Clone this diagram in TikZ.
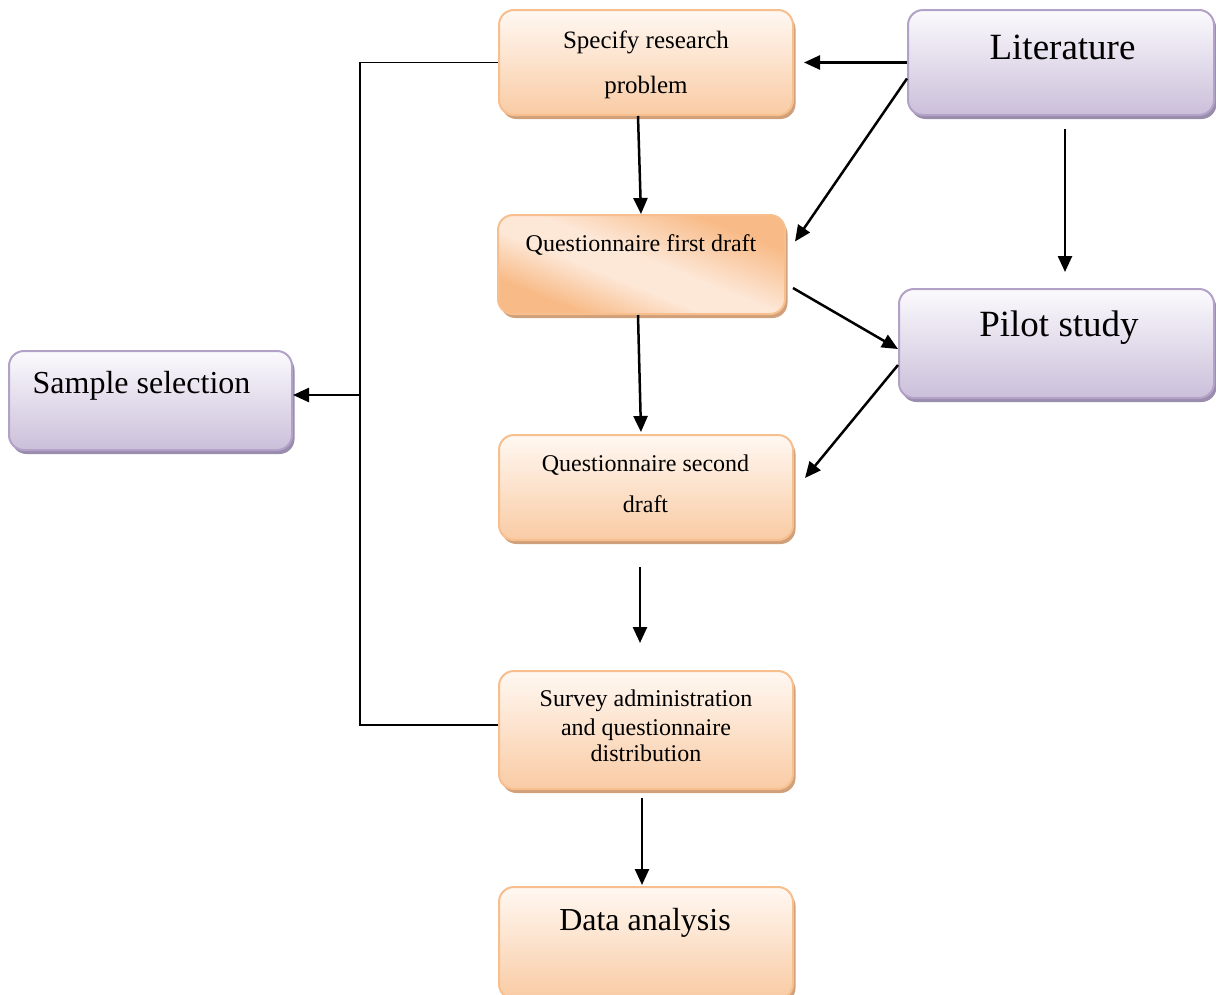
\documentclass[tikz,border=0pt]{standalone}
\usepackage{fontspec}
\setmainfont{Liberation Serif}
\usetikzlibrary{arrows.meta,shadows,calc}
\definecolor{obord}{HTML}{F8BF8E}
\definecolor{obot}{HTML}{F9CBA4}
\definecolor{otop}{HTML}{FFF8F2}
\definecolor{oshad}{HTML}{CFA07A}
\definecolor{odeep}{HTML}{F8BA86}
\definecolor{olight}{HTML}{FDE8D8}
\definecolor{pbord}{HTML}{B3A2C7}
\definecolor{pbot}{HTML}{CBBFDA}
\definecolor{ptop}{HTML}{FBFAFD}
\definecolor{pshad}{HTML}{9A8CAD}
\pgfdeclareverticalshading{qsh}{100bp}{color(0bp)=(odeep); color(28bp)=(odeep); color(43bp)=(olight); color(52bp)=(olight); color(72bp)=(odeep); color(100bp)=(odeep)}
\tikzset{
  obox/.style={draw=obord, line width=2pt, rounded corners=15pt, top color=otop, bottom color=obot,
    drop shadow={fill=oshad, opacity=1, shadow xshift=2.5pt, shadow yshift=-4pt}, inner sep=0pt},
  pbox/.style={draw=pbord, line width=2pt, rounded corners=15pt, top color=ptop, bottom color=pbot,
    drop shadow={fill=pshad, opacity=1, shadow xshift=2.5pt, shadow yshift=-4pt}, inner sep=0pt},
  txt/.style={anchor=base, inner sep=0pt},
  small/.style={font=\fontsize{24}{28}\selectfont},
  big/.style={font=\fontsize{37}{42}\selectfont},
  mid/.style={font=\fontsize{32}{36}\selectfont},
  arr/.style={line width=2.5pt, -{Triangle[length=16pt,width=14pt]}},
  plain/.style={line width=1.6pt}
}
\begin{document}
\begin{tikzpicture}[x=1pt,y=-1pt]
\useasboundingbox (0,0) rectangle (1216,994);
% boxes
\node[obox, minimum width=294pt, minimum height=105pt] (spec) at (646,62.5) {};
\node[pbox, minimum width=306pt, minimum height=105pt] (lit) at (1061,62.5) {};
\node[obox, minimum width=287pt, minimum height=99pt, shading=qsh, shading angle=-22] (q1) at (641.5,264.5) {};
\node[pbox, minimum width=315pt, minimum height=109pt] (pilot) at (1056.5,343.5) {};
\node[pbox, minimum width=283pt, minimum height=99pt] (sample) at (150.5,400.5) {};
\node[obox, minimum width=294pt, minimum height=105pt] (q2) at (646,487.5) {};
\node[obox, minimum width=294pt, minimum height=118pt] (survey) at (646,730) {};
\node[obox, minimum width=294pt, minimum height=112pt] (data) at (646,943) {};
% texts
\node[txt, font=\fontsize{25}{28}\selectfont] (t1) at (646,48) {Specify research};
\node[txt, font=\fontsize{25}{28}\selectfont] (t2) at (646,93) {problem};
\node[txt, big] (t3) at (1062.5,59) {Literature};
\node[txt, small] (t4) at (641,251.5) {Questionnaire first draft};
\node[txt, big] (t5) at (1059,336) {Pilot study};
\node[txt, mid] (t6) at (141.5,393) {Sample selection};
\node[txt, small] (t7) at (645.5,471.5) {Questionnaire second};
\node[txt, small] (t8) at (645.5,512.5) {draft};
\node[txt, small] (t9) at (646,706.5) {Survey administration};
\node[txt, small] (t10) at (646,735) {and questionnaire};
\node[txt, small] (t11) at (646,761.5) {distribution};
\node[txt, mid] (t12) at (645,930) {Data analysis};
% connectors
\draw[arr] (lit.west) -- ([xshift=10pt]spec.east);
\draw[arr] ([yshift=-16pt]lit.west) -- ([xshift=9pt,yshift=23pt]q1.east);
\draw[arr] ([xshift=4pt,yshift=-13pt]lit.south) -- ([xshift=8.5pt,yshift=16pt]pilot.north);
\draw[arr] ([xshift=-8pt]spec.south) -- ([xshift=-0.5pt]q1.north);
\draw[arr] ([xshift=7pt,yshift=-23.5pt]q1.east) -- ([yshift=-5.5pt]pilot.west);
\draw[arr] ([xshift=-3.5pt]q1.south) -- ([xshift=-5pt,yshift=2pt]q2.north);
\draw[arr] ([yshift=-21.5pt]pilot.west) -- ([xshift=11pt,yshift=9.5pt]q2.east);
\draw[arr] ([xshift=-6pt,yshift=-26pt]q2.south) -- ([xshift=-6pt,yshift=27pt]survey.north);
\draw[arr] ([xshift=-4pt,yshift=-8pt]survey.south) -- ([xshift=-4pt,yshift=1pt]data.north);
\draw[plain] (spec.west) -- ++(-138,0) coordinate (bt) |- ([yshift=5pt]survey.west);
\coordinate (br) at (bt |- 0,395);
\draw[arr] (br) -- ([yshift=5.5pt]sample.east);
\end{tikzpicture}
\end{document}
